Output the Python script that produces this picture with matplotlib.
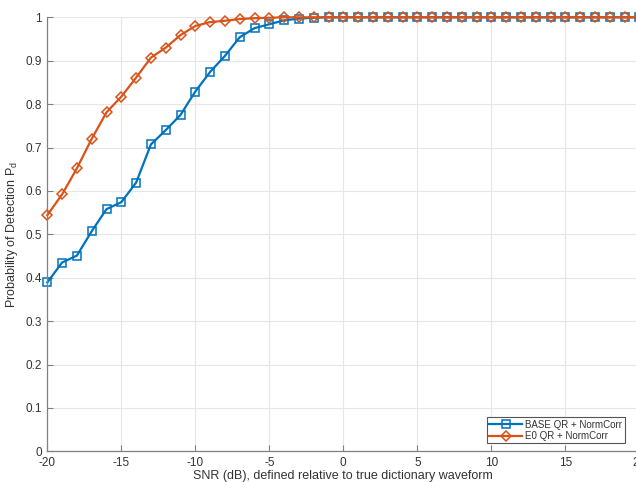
"""
Probabilidad de deteccion vs SNR (BASE QR vs E0 QR).
"""
import numpy as np
import matplotlib
matplotlib.use('Agg')
import matplotlib.pyplot as plt

# datos
snr_db = list(range(-20, 21))
pd_base = [0.389, 0.435, 0.451, 0.507, 0.558, 0.574, 0.619, 0.707, 0.740, 0.775,
           0.829, 0.874, 0.911, 0.954, 0.975, 0.984, 0.993, 0.997, 0.999, 1.0] + [1.0] * 21
pd_e0 = [0.544, 0.592, 0.652, 0.720, 0.781, 0.817, 0.861, 0.907, 0.930, 0.959,
         0.980, 0.989, 0.992, 0.996, 0.998, 0.999] + [1.0] * 25
etiquetas = ['BASE QR + NormCorr', 'E0 QR + NormCorr']

plt.rcParams['font.family'] = ['Liberation Sans', 'DejaVu Sans']
plt.rcParams['axes.unicode_minus'] = False

fig = plt.figure(figsize=(6.36, 4.82), dpi=100)
ax = fig.add_axes([47.3 / 636, 30.7 / 482, (639.3 - 47.3) / 636, (451.3 - 17.3) / 482])

ax.plot(snr_db, pd_base, color='#0072BD', linewidth=1.6, marker='s', markersize=5.2,
        markerfacecolor='none', markeredgewidth=1.1, label=etiquetas[0], clip_on=False)
ax.plot(snr_db, pd_e0, color='#D95319', linewidth=1.6, marker='D', markersize=5.2,
        markerfacecolor='none', markeredgewidth=1.1, label=etiquetas[1], clip_on=False)

ax.set_xlim(-20, 20)
ax.set_ylim(0, 1)
ax.set_xticks(np.arange(-20, 21, 5))
ax.set_yticks(np.arange(0, 1.01, 0.1))
ax.set_yticklabels(['0', '0.1', '0.2', '0.3', '0.4', '0.5', '0.6', '0.7', '0.8', '0.9', '1'])

ax.grid(True, color='#e6e6e6', linewidth=0.8)
ax.set_axisbelow(True)
for lado in ['top', 'right']:
    ax.spines[lado].set_visible(False)
for lado in ['left', 'bottom']:
    ax.spines[lado].set_color('#808080')
    ax.spines[lado].set_linewidth(0.9)
ax.tick_params(direction='in', length=4, width=0.8, color='#808080',
               labelsize=8.5, labelcolor='#333333', pad=4)

ax.set_xlabel('SNR (dB), defined relative to true dictionary waveform',
              fontsize=9, color='#333333', labelpad=1)
ax.set_ylabel('Probability of Detection P$_\\mathregular{d}$', fontsize=9,
              color='#333333', labelpad=4)

leg = ax.legend(loc='lower right', bbox_to_anchor=(0.975, 0.018), fontsize=7,
                handlelength=3.4, handletextpad=0.3, borderpad=0.25,
                labelspacing=0.15, borderaxespad=0, fancybox=False,
                framealpha=1, edgecolor='#555555')
leg.get_frame().set_linewidth(0.8)
for t in leg.get_texts():
    t.set_color('#333333')

fig.savefig('out.png', dpi=100)
plt.close(fig)
